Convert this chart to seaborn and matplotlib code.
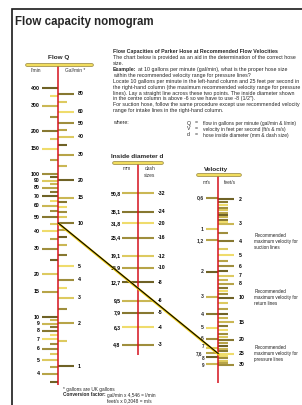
import numpy as np
import pandas as pd
import matplotlib
matplotlib.use('Agg')
import matplotlib.pyplot as plt
import matplotlib.patheffects as pe
import seaborn as sns

# ---- data ----
flow_lmin_major = [400, 300, 200, 150, 100, 90, 80, 70, 60, 50, 40, 30, 20, 15, 10, 9, 8, 7, 6, 5, 4]
flow_lmin_minor = [350, 250, 175, 125, 95, 85, 75, 65, 55, 45, 35, 25, 9.5, 8.5, 7.5, 6.5, 5.5, 4.5, 3.5]
flow_gal_major = [80, 60, 50, 40, 30, 20, 15, 10, 5, 4, 3, 2, 1]
flow_gal_minor = [70, 45, 35, 25, 14, 13, 12, 11, 9, 8, 7, 6, 3.5, 2.5, 1.5]
GAL_TO_L = 4.546

diam_mm = [50.8, 38.1, 31.8, 25.4, 19.1, 15.9, 12.7, 9.5, 7.9, 6.3, 4.8]
diam_mm_labels = ['50,8', '38,1', '31,8', '25,4', '19,1', '15,9', '12,7', '9,5', '7,9', '6,3', '4,8']
diam_dash_labels = ['-32', '-24', '-20', '-16', '-12', '-10', '-8', '-6', '-5', '-4', '-3']

vel_ms = [0.6, 1, 1.2, 2, 3, 4, 5, 6, 7, 7.6, 8, 9]
vel_ms_labels = ['0,6', '1', '1,2', '2', '3', '4', '5', '6', '7', '7,6', '8', '9']
vel_fts_major = [2, 3, 4, 5, 6, 7, 8, 10, 15, 20, 25, 30]
vel_fts_minor = [2.1, 2.2, 2.3, 2.4, 2.5, 2.6, 2.7, 2.8, 2.9, 3.5, 4.5, 5.5, 6.5, 7.5, 8.5, 9, 9.5,
                 11, 12, 13, 14, 16, 17, 18, 19, 21, 22, 23, 24, 26, 27, 28, 29]
FT_TO_M = 0.3048

recommended = {'suction lines': 4, 'return lines': 10, 'pressure lines': 25}

example_gal = 10
example_fts = 25

text_lines = [
    "The chart below is provided as an aid in the determination of the correct hose",
    "size.",
    None,
    "within the recommended velocity range for pressure lines?",
    "Locate 10 gallons per minute in the left-hand column and 25 feet per second in",
    "the right-hand column (the maximum recommended velocity range for pressure",
    "lines). Lay a straight line across these two points. The inside diameter shown",
    "in the centre column is above -6 so we have to use -8 (1/2\").",
    "For suction hose, follow the same procedure except use recommended velocity",
    "range for intake lines in the right-hand column.",
]
where_lines = [("Q", "flow in gallons per minute (gal/min & l/min)"),
               ("V", "velocity in feet per second (ft/s & m/s)"),
               ("d", "hose inside diameter (mm & dash size)")]

# ---- style ----
sns.set_theme(style='white')
plt.rcParams['font.family'] = ['Liberation Sans', 'DejaVu Sans']

W, H = 302, 405
fig = plt.figure(figsize=(W / 100, H / 100), dpi=100)
fig.patch.set_facecolor('white')

RED = '#d4111c'
tick_pal = sns.blend_palette(['#6f6226', '#b7a448', '#efdc6c'], 7)


def tick_colors(n, start=0):
    order = [0, 4, 1, 6, 2, 5, 3]
    return [tick_pal[order[(i + start) % 7]] for i in range(n)]


def column_axes(x0, x1, ytop, ybot, ylim):
    ax = fig.add_axes([x0 / W, (H - ybot) / H, (x1 - x0) / W, (ybot - ytop) / H])
    ax.set_yscale('log')
    ax.set_xlim(x0, x1)
    ax.set_ylim(*ylim)
    ax.axis('off')
    ax.patch.set_alpha(0)
    return ax


fs_lab = 3.7
bold = dict(fontweight='bold', fontsize=fs_lab, color='black')

# ---- Flow Q column ----
axq = column_axes(20, 100, 64, 385, (3.35, 589))
xr = 58.3
axq.hlines(flow_lmin_major, 41.5, xr, colors=tick_colors(len(flow_lmin_major)), lw=1.5)
axq.hlines(flow_lmin_minor, 49.5, xr, colors=tick_colors(len(flow_lmin_minor), 3), lw=1.5)
gal_major_l = [g * GAL_TO_L for g in flow_gal_major]
gal_minor_l = [g * GAL_TO_L for g in flow_gal_minor]
axq.hlines(gal_major_l, xr, 73.5, colors=tick_colors(len(gal_major_l), 2), lw=1.5)
axq.hlines(gal_minor_l, xr, 67, colors=tick_colors(len(gal_minor_l), 5), lw=1.5)
for v in flow_lmin_major:
    axq.text(39.5, v, str(v), ha='right', va='center', **bold)
for g, gl in zip(flow_gal_major, gal_major_l):
    axq.text(77.5, gl, str(g), ha='left', va='center', **bold)
axq.axvline(xr, color=RED, lw=1.1)

# ---- Inside diameter column ----
axd = column_axes(105, 175, 163, 355, (4.08, 81.6))
xd = 138.3
axd.hlines(diam_mm, 122, 154, colors=tick_colors(len(diam_mm), 1), lw=1.5)
for v, lm, ld in zip(diam_mm, diam_mm_labels, diam_dash_labels):
    axd.text(120.5, v, lm, ha='right', va='center', **bold)
    axd.text(157.5, v, ld, ha='left', va='center', **bold)
axd.axvline(xd, color=RED, lw=1.1)

# ---- Velocity column ----
axv = column_axes(190, 302, 175, 383, (40.4, 1.351))
xv = 218.3
vel_ms_ft = [m / FT_TO_M for m in vel_ms]
axv.hlines(vel_ms_ft, 206, xv, colors=tick_colors(len(vel_ms_ft), 4), lw=1.5)
# the bottom labels sit very close together: nudge them apart a little
nudge = {'7': 1.3, '7,6': 0.0, '8': -1.6, '9': -1.0}
for v, lab in zip(vel_ms_ft, vel_ms_labels):
    small = lab in nudge
    axv.annotate(lab, (204 - (2 if lab == '7,6' else 0), v), xytext=(0, nudge.get(lab, 0)),
                 textcoords='offset points', ha='right', va='center',
                 fontweight='bold', fontsize=3.3 if small else fs_lab)
axv.hlines(vel_fts_major, xv, 233.5, colors=tick_colors(len(vel_fts_major)), lw=1.5)
axv.hlines(vel_fts_minor, xv, 228, colors=tick_colors(len(vel_fts_minor), 2), lw=1.5)
for v in vel_fts_major:
    axv.text(239, v, str(v), ha='left', va='center', **bold)
for name, v in recommended.items():
    axv.text(254.5, v, "Recommended\nmaximum velocity for\n" + name, ha='left', va='center',
             fontsize=3.3, linespacing=1.25, color='#222')
axv.axvline(xv, color=RED, lw=1.1)

# ---- overlay with text, frame and example line ----
ov = fig.add_axes([0, 0, 1, 1], zorder=5)
ov.set_xlim(0, W)
ov.set_ylim(H, 0)
ov.axis('off')
ov.patch.set_alpha(0)

ov.plot([11.7, 11.7, W], [H, 9.3, 9.3], color='#1a1a1a', lw=1.2, solid_joinstyle='miter')
ov.text(15, 21.7, "Flow capacity nomogram", fontsize=8.3, fontweight='bold', va='center', ha='left')

fs_txt = 3.8
x_txt = 113
ov.text(x_txt, 52, "Flow Capacities of Parker Hose at Recommended Flow Velocities",
        fontsize=fs_txt, fontweight='bold', va='center')
renderer = fig.canvas.get_renderer()
y = 58
for line in text_lines:
    if line is None:
        t = ov.text(x_txt, y, "Example:", fontsize=fs_txt, fontweight='bold', va='center')
        bb = t.get_window_extent(renderer).transformed(ov.transData.inverted())
        ov.text(bb.x1 + 1, y, "at 10 gallons per minute (gal/min), what is the proper hose size",
                fontsize=fs_txt, va='center')
    else:
        ov.text(x_txt, y, line, fontsize=fs_txt, va='center')
    y += 5.85
ov.text(x_txt, 123, "where:", fontsize=fs_txt, va='center')
for i, (sym, desc) in enumerate(where_lines):
    yy = 123 + i * 6
    ov.text(187, yy, sym, fontsize=fs_txt, va='center')
    ov.text(195, yy, "=", fontsize=fs_txt, va='center')
    ov.text(203, yy, desc, fontsize=3.55, va='center')

bar_fx = [pe.Stroke(linewidth=2.6, foreground='#9c8a3a'), pe.Normal()]
fs_head = 4.6
fs_unit = 3.5
# Flow header
ov.text(59, 58, "Flow Q", fontsize=fs_head, fontweight='bold', ha='center', va='center')
ov.plot([27, 92], [65, 65], color='#f1dd5e', lw=1.5, solid_capstyle='round', path_effects=bar_fx)
ov.text(36, 71, "l/min", fontsize=fs_unit, ha='center', va='center', color='#333')
ov.text(75, 71, "Gal/min *", fontsize=fs_unit, ha='center', va='center', color='#333')
# Diameter header
ov.text(137.5, 157, "Inside diameter d", fontsize=fs_head, fontweight='bold', ha='center', va='center')
ov.plot([114, 162], [163.3, 163.3], color='#f1dd5e', lw=1.5, solid_capstyle='round', path_effects=bar_fx)
ov.text(127, 168.5, "mm", fontsize=fs_unit, ha='center', va='center', color='#333')
ov.text(150, 166.5, "dash\nsizes", fontsize=fs_unit, ha='center', va='top', color='#333',
        linespacing=1.4)
# Velocity header
ov.text(216, 169, "Velocity", fontsize=fs_head, fontweight='bold', ha='center', va='center')
ov.plot([198, 240], [174.5, 174.5], color='#f1dd5e', lw=1.5, solid_capstyle='round', path_effects=bar_fx)
ov.text(207, 182, "m/s", fontsize=fs_unit, ha='center', va='center', color='#333')
ov.text(230, 182, "feet/s", fontsize=fs_unit, ha='center', va='center', color='#333')

# example line from 10 gal/min to 25 ft/s through the library transforms
p1 = ov.transData.inverted().transform(axq.transData.transform((xr, example_gal * GAL_TO_L)))
p2 = ov.transData.inverted().transform(axv.transData.transform((xv, example_fts)))
line_df = pd.DataFrame({'x': [p1[0], p2[0]], 'y': [p1[1], p2[1]]})
sns.lineplot(data=line_df, x='x', y='y', ax=ov, sort=False, color='black', lw=0.8,
             path_effects=[pe.Stroke(linewidth=1.8, foreground='#f3cf12', offset=(0.4, -0.6)), pe.Normal()])
ov.set_xlim(0, W)
ov.set_ylim(H, 0)
ov.axis('off')

# footnote
ov.text(63, 389, "* gallons are UK gallons", fontsize=3.4, va='center')
t = ov.text(63, 395, "Conversion factor:", fontsize=3.4, fontweight='bold', va='center')
bb = t.get_window_extent(renderer).transformed(ov.transData.inverted())
ov.text(bb.x1 + 1, 395, "gal/min x 4,546 = l/min", fontsize=3.4, va='center')
ov.text(bb.x1 + 1, 401, "feet/s x 0,3048 = m/s", fontsize=3.4, va='center')

fig.savefig('out.png', dpi=100)
